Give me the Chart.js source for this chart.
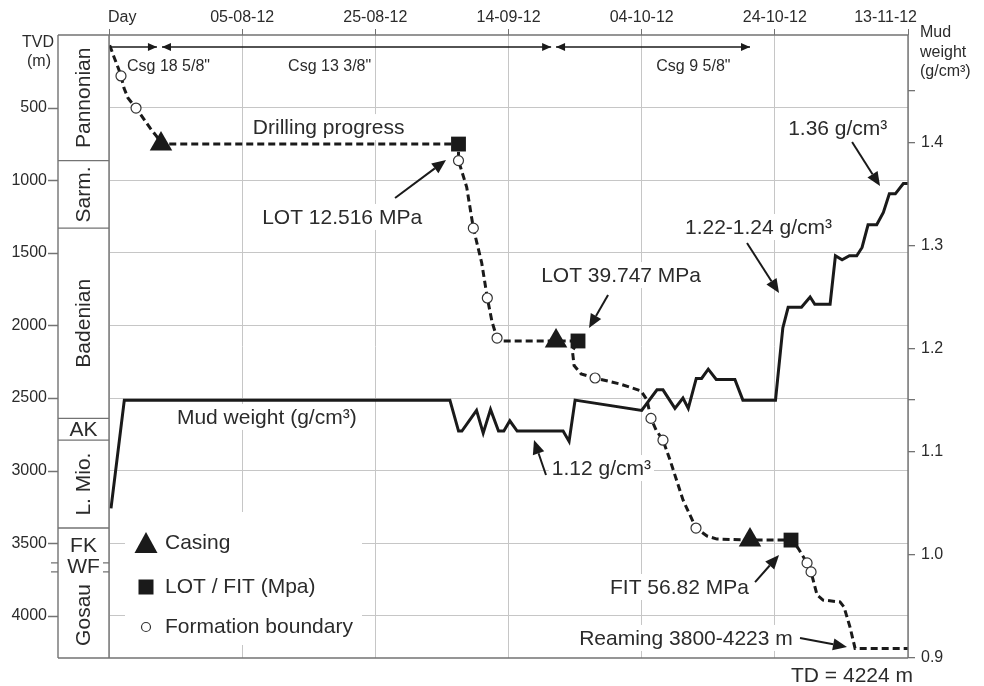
<!DOCTYPE html>
<html>
<head>
<meta charset="utf-8">
<title>Drilling progress and mud weight</title>
<script src="https://cdn.jsdelivr.net/npm/chart.js@4.4.0/dist/chart.umd.min.js"></script>
<style>
  html, body { margin: 0; padding: 0; background: #fff; }
  #wrap { width: 984px; height: 686px; }
</style>
</head>
<body>
<div id="wrap"><canvas id="c" width="984" height="686"></canvas></div>
<script>
// ---- top axis: days since spud, labelled with calendar dates ----
const dateTickDays = [0, 20, 40, 60, 80, 100, 120];
const dateLabels = ['Day', '05-08-12', '25-08-12', '14-09-12', '04-10-12', '24-10-12', '13-11-12'];

// ---- left axis: true vertical depth (m) ----
const depthTicks = [500, 1000, 1500, 2000, 2500, 3000, 3500, 4000];

// ---- right axis: mud weight (g/cm3) ----
const mudTicks = [0.9, 1.0, 1.1, 1.15, 1.2, 1.3, 1.4, 1.45];
const mudTickLabels = ['0.9', '1.0', '1.1', '', '1.2', '1.3', '1.4', ''];

// ---- drilling progress (day, TVD m) ----
const drillDays = [0.1, 0.75, 1.5, 1.8, 2.25, 2.85, 4.06, 6.16, 7.21, 7.81,
  52.49, 52.49, 53.72, 54.72, 55.98, 56.82, 57.53, 58.28, 59.18, 67.14,
  70.44, 69.6, 69.85, 70.9, 73.0, 76.75, 79.9, 80.8, 81.4, 82.16,
  83.2, 84.26, 86.21, 88.16, 89.82, 91.32, 96.27, 102.43, 103.48, 104.84,
  105.44, 106.34, 107.24, 109.79, 110.39, 111.29, 112.05, 120];
const drillDepth = [70, 151, 241, 282, 365, 434, 503, 640, 702, 751,
  751, 865, 1047, 1330, 1570, 1811, 1976, 2087, 2107, 2107,
  2107, 2175, 2276, 2334, 2362, 2403, 2451, 2513, 2640, 2720,
  2790, 2927, 3202, 3395, 3450, 3471, 3478, 3478, 3533, 3635,
  3697, 3856, 3891, 3904, 3939, 4077, 4224, 4224];

// ---- formation boundaries met while drilling ----
const boundaryDays = [1.8, 4.06, 52.49, 54.72, 56.82, 58.28, 73.0, 81.4, 83.2, 88.16, 104.84, 105.44];
const boundaryDepth = [282, 503, 865, 1330, 1811, 2087, 2362, 2640, 2790, 3395, 3635, 3697];

// ---- casing shoes and leak-off / formation integrity tests ----
const casingDays = [7.81, 67.14, 96.27];
const casingDepth = [751, 2107, 3478];
const lotDays = [52.49, 70.44, 102.43];
const lotDepth = [751, 2107, 3478];

// ---- casing strings (interval in days) ----
const casingNames = ['Csg 18 5/8"', 'Csg 13 3/8"', 'Csg 9 5/8"'];
const casingFrom = [0.15, 7.96, 67.14];
const casingTo = [7.2, 66.4, 96.27];
const casingLabelDays = [2.7, 26.9, 82.2];

// ---- mud weight (day, g/cm3) ----
const mudDays = [0.3, 2.3, 51.2, 52.5, 53.0, 55.2, 56.2, 57.3, 58.5, 59.3,
  60.2, 61.3, 68.2, 69.1, 70.0, 80.0, 82.3, 83.2, 85.0, 86.2,
  87.0, 88.2, 89.0, 90.0, 91.2, 94.0, 95.2, 100.1, 101.2, 102.0,
  104.0, 105.3, 106.0, 108.3, 109.1, 110.1, 111.2, 112.3, 113.1, 114.0,
  115.3, 116.3, 117.2, 118.1, 119.3, 120];
const mudWeight = [1.045, 1.15, 1.15, 1.12, 1.12, 1.14, 1.118, 1.141, 1.12, 1.12,
  1.13, 1.12, 1.12, 1.11, 1.15, 1.14, 1.16, 1.16, 1.142, 1.152,
  1.142, 1.171, 1.171, 1.18, 1.17, 1.17, 1.15, 1.15, 1.22, 1.24,
  1.24, 1.25, 1.243, 1.243, 1.29, 1.286, 1.29, 1.29, 1.298, 1.32,
  1.32, 1.332, 1.35, 1.35, 1.36, 1.36];

// ---- stratigraphic column (top of each unit, m) ----
const formationNames = ['Pannonian', 'Sarm.', 'Badenian', 'AK', 'L. Mio.', 'FK', 'WF', 'Gosau'];
const formationTops = [0, 865, 1330, 2640, 2790, 3395, 3635, 3697];

// ---- legend ----
const legendLabels = ['Casing', 'LOT / FIT (Mpa)', 'Formation boundary'];

// ---- callouts: text anchored at (day, depth); arrows from -> to ----
const notes = [
  { text: 'Drilling progress', day: 21.6, depth: 634, align: 'left' },
  { text: 'LOT 12.516 MPa', day: 23.0, depth: 1253, align: 'left', from: [42.96, 1122], to: [50.62, 861] },
  { text: 'LOT 39.747 MPa', day: 64.9, depth: 1653, align: 'left', from: [74.95, 1790], to: [72.09, 2018] },
  { text: 'Mud weight (g/cm\u00B3)', day: 10.2, depth: 2630, align: 'left' },
  { text: '1.12 g/cm\u00B3', day: 66.5, depth: 2982, align: 'left', from: [65.63, 3030], to: [63.83, 2789] },
  { text: '1.22-1.24 g/cm\u00B3', day: 86.5, depth: 1322, align: 'left', from: [95.82, 1432], to: [100.63, 1777] },
  { text: '1.36 g/cm\u00B3', day: 102.0, depth: 640, align: 'left', from: [111.6, 737], to: [115.8, 1040] },
  { text: 'FIT 56.82 MPa', day: 96.1, depth: 3801, align: 'right', from: [97.03, 3767], to: [100.63, 3581] },
  { text: 'Reaming 3800-4223 m', day: 102.7, depth: 4152, align: 'right', from: [103.78, 4152], to: [110.84, 4214] }
];

const FONT = "'Liberation Sans', Arial, Helvetica, sans-serif";
const INK = '#1a1a1a';
const TEXT = '#2b2b2b';
const FRAME = '#737373';
const GRID = '#c6c6c6';

function arrow(ctx, x1, y1, x2, y2, len, half, width) {
  const ang = Math.atan2(y2 - y1, x2 - x1);
  const bx = x2 - Math.cos(ang) * len, by = y2 - Math.sin(ang) * len;
  ctx.lineWidth = width;
  ctx.beginPath();
  ctx.moveTo(x1, y1);
  ctx.lineTo(bx, by);
  ctx.stroke();
  ctx.beginPath();
  ctx.moveTo(x2, y2);
  ctx.lineTo(bx + Math.sin(ang) * half, by - Math.cos(ang) * half);
  ctx.lineTo(bx - Math.sin(ang) * half, by + Math.cos(ang) * half);
  ctx.closePath();
  ctx.fill();
}

function noteBox(ctx, chart, n) {
  const x = chart.scales.x.getPixelForValue(n.day);
  const y = chart.scales.y.getPixelForValue(n.depth);
  const w = ctx.measureText(n.text).width;
  const left = n.align === 'right' ? x - w : x;
  return { x, y, w, left };
}

const decor = {
  id: 'decor',
  beforeDatasetsDraw(chart) {
    const { ctx, chartArea: a } = chart;
    ctx.save();
    ctx.fillStyle = '#fff';
    // legend panel hides the grid behind it
    ctx.fillRect(a.left + 16, a.bottom - 146, 237, 133);
    // white backing behind callout text
    ctx.font = `21px ${FONT}`;
    notes.forEach(n => {
      const b = noteBox(ctx, chart, n);
      ctx.fillRect(b.left - 3, b.y - 13, b.w + 6, 26);
    });
    ctx.restore();
  },
  afterDraw(chart) {
    const { ctx, chartArea: a, scales } = chart;
    const sx = scales.x, sy = scales.y;
    const colLeft = a.left - 51;
    ctx.save();

    // frame and stratigraphic column
    ctx.strokeStyle = FRAME;
    ctx.lineWidth = 1.4;
    ctx.beginPath();
    ctx.moveTo(colLeft, a.top); ctx.lineTo(a.right, a.top);
    ctx.moveTo(colLeft, a.bottom); ctx.lineTo(a.right, a.bottom);
    ctx.moveTo(colLeft, a.top); ctx.lineTo(colLeft, a.bottom);
    ctx.moveTo(a.left, a.top); ctx.lineTo(a.left, a.bottom);
    ctx.moveTo(a.right, a.top); ctx.lineTo(a.right, a.bottom);
    ctx.stroke();

    // depth tick marks outside the column
    ctx.beginPath();
    depthTicks.forEach(d => {
      const y = Math.round(sy.getPixelForValue(d)) + 0.5;
      ctx.moveTo(colLeft - 10, y); ctx.lineTo(colLeft, y);
    });
    ctx.stroke();

    ctx.fillStyle = TEXT;
    ctx.font = `21px ${FONT}`;
    ctx.textBaseline = 'middle';
    ctx.textAlign = 'center';
    const cx = (colLeft + a.left) / 2;
    formationNames.forEach((name, i) => {
      const top = sy.getPixelForValue(formationTops[i]);
      const bot = i + 1 < formationTops.length ? sy.getPixelForValue(formationTops[i + 1]) : a.bottom;
      const h = bot - top;
      if (i > 0) {
        const prevH = top - sy.getPixelForValue(formationTops[i - 1]);
        ctx.beginPath();
        if (h < 15 || prevH < 15) {
          // thin unit: short marks at both sides
          ctx.moveTo(colLeft - 7, top); ctx.lineTo(colLeft, top);
          ctx.moveTo(a.left - 6, top); ctx.lineTo(a.left, top);
        } else {
          ctx.moveTo(colLeft, top); ctx.lineTo(a.left, top);
        }
        ctx.stroke();
      }
      const cy = (top + bot) / 2;
      if (h > 50) {
        ctx.save();
        ctx.translate(cx + 1, cy);
        ctx.rotate(-Math.PI / 2);
        ctx.fillText(name, 0, 0);
        ctx.restore();
      } else {
        ctx.fillText(name, cx, cy + (h < 15 ? 0 : 1));
      }
    });

    // axis titles
    ctx.font = `16px ${FONT}`;
    ctx.textAlign = 'center';
    ctx.fillText('TVD', colLeft - 20, a.top + 8);
    ctx.fillText('(m)', colLeft - 19, a.top + 27);
    ctx.textAlign = 'left';
    ctx.fillText('Mud', a.right + 12, a.top - 2);
    ctx.fillText('weight', a.right + 12, a.top + 18);
    ctx.fillText('(g/cm\u00B3)', a.right + 12, a.top + 37);

    // date labels on the top axis
    dateLabels.forEach((lab, i) => {
      const x = sx.getPixelForValue(dateTickDays[i]);
      let align = 'center', dx = 0;
      if (i === 0) { align = 'left'; dx = -1; }
      if (i === dateLabels.length - 1) { align = 'right'; dx = 9; }
      ctx.textAlign = align;
      ctx.fillText(lab, x + dx, a.top - 17);
    });

    // casing string intervals
    ctx.strokeStyle = INK;
    ctx.fillStyle = INK;
    const ay = a.top + 12;
    casingNames.forEach((name, i) => {
      const x1 = sx.getPixelForValue(casingFrom[i]);
      const x2 = sx.getPixelForValue(casingTo[i]);
      ctx.lineWidth = 1.4;
      ctx.beginPath(); ctx.moveTo(x1, ay); ctx.lineTo(x2, ay); ctx.stroke();
      arrow(ctx, x2 - 9, ay, x2, ay, 9, 4, 1.4);
      if (casingFrom[i] > 1) arrow(ctx, x1 + 9, ay, x1, ay, 9, 4, 1.4);
      ctx.fillStyle = TEXT;
      ctx.textAlign = 'left';
      ctx.font = `16px ${FONT}`;
      ctx.fillText(name, sx.getPixelForValue(casingLabelDays[i]), ay + 20);
      ctx.fillStyle = INK;
    });

    // callouts
    ctx.font = `21px ${FONT}`;
    notes.forEach(n => {
      const b = noteBox(ctx, chart, n);
      ctx.fillStyle = TEXT;
      ctx.textAlign = 'left';
      ctx.fillText(n.text, b.left, b.y + 1);
      if (n.from) {
        ctx.fillStyle = INK;
        ctx.strokeStyle = INK;
        arrow(ctx, sx.getPixelForValue(n.from[0]), sy.getPixelForValue(n.from[1]),
          sx.getPixelForValue(n.to[0]), sy.getPixelForValue(n.to[1]), 14, 6, 2);
      }
    });

    // total depth
    ctx.fillStyle = TEXT;
    ctx.textAlign = 'right';
    ctx.fillText('TD = ' + drillDepth[drillDepth.length - 1] + ' m', a.right + 5, a.bottom + 18);

    // legend
    const lx = a.left + 37;
    const ly = [a.bottom - 115, a.bottom - 71, a.bottom - 31];
    ctx.fillStyle = INK;
    ctx.beginPath();
    ctx.moveTo(lx, ly[0] - 11); ctx.lineTo(lx + 11.5, ly[0] + 10); ctx.lineTo(lx - 11.5, ly[0] + 10);
    ctx.closePath(); ctx.fill();
    ctx.fillRect(lx - 7.5, ly[1] - 7.5, 15, 15);
    ctx.fillStyle = '#fff';
    ctx.strokeStyle = '#333';
    ctx.lineWidth = 1.2;
    ctx.beginPath(); ctx.arc(lx, ly[2], 4.5, 0, Math.PI * 2); ctx.fill(); ctx.stroke();
    ctx.fillStyle = TEXT;
    ctx.textAlign = 'left';
    legendLabels.forEach((t, i) => ctx.fillText(t, lx + 19, ly[i]));

    ctx.restore();
  }
};

const toXY = (xs, ys) => xs.map((v, i) => ({ x: v, y: ys[i] }));

new Chart(document.getElementById('c'), {
  type: 'line',
  data: {
    datasets: [
      {
        label: 'Casing', data: toXY(casingDays, casingDepth), yAxisID: 'y',
        showLine: false, pointStyle: 'triangle', pointRadius: 13,
        pointBackgroundColor: INK, pointBorderColor: INK, pointBorderWidth: 0, order: 1
      },
      {
        label: 'LOT / FIT (Mpa)', data: toXY(lotDays, lotDepth), yAxisID: 'y',
        showLine: false, pointStyle: 'rect', pointRadius: 10.5,
        pointBackgroundColor: INK, pointBorderColor: INK, pointBorderWidth: 0, order: 2
      },
      {
        label: 'Formation boundary', data: toXY(boundaryDays, boundaryDepth), yAxisID: 'y',
        showLine: false, pointStyle: 'circle', pointRadius: 5,
        pointBackgroundColor: '#fff', pointBorderColor: '#333', pointBorderWidth: 1.2, order: 3
      },
      {
        label: 'Drilling progress', data: toXY(drillDays, drillDepth), yAxisID: 'y',
        borderColor: INK, borderWidth: 3, borderDash: [7, 4], pointRadius: 0,
        tension: 0, fill: false, order: 4
      },
      {
        label: 'Mud weight', data: toXY(mudDays, mudWeight), yAxisID: 'y2',
        borderColor: INK, borderWidth: 3, pointRadius: 0, tension: 0, fill: false,
        borderJoinStyle: 'miter', order: 5
      }
    ]
  },
  options: {
    responsive: false,
    animation: false,
    devicePixelRatio: 1,
    layout: { autoPadding: false, padding: { top: 0, bottom: 28, left: 0, right: 0 } },
    plugins: { legend: { display: false }, tooltip: { enabled: false } },
    scales: {
      x: {
        type: 'linear', position: 'top', min: 0, max: 120,
        afterBuildTicks: s => { s.ticks = dateTickDays.map(v => ({ value: v })); },
        afterFit: s => { s.height = 35; },
        ticks: { display: false },
        grid: { color: GRID, lineWidth: 1, drawTicks: true, tickLength: 6, tickColor: FRAME },
        border: { display: false }
      },
      y: {
        type: 'linear', position: 'left', reverse: true, min: 0, max: 4290,
        afterBuildTicks: s => { s.ticks = depthTicks.map(v => ({ value: v })); },
        afterFit: s => { s.width = 109; s.paddingTop = 0; s.paddingBottom = 0; },
        ticks: { padding: 62, autoSkip: false, color: TEXT, font: { family: FONT, size: 16 }, callback: v => String(v) },
        grid: { color: GRID, lineWidth: 1, drawTicks: false },
        border: { display: false }
      },
      y2: {
        type: 'linear', position: 'right', min: 0.9, max: 1.504,
        afterBuildTicks: s => { s.ticks = mudTicks.map(v => ({ value: v })); },
        afterFit: s => { s.width = 76; s.paddingTop = 0; s.paddingBottom = 0; },
        ticks: {
          padding: 6, autoSkip: false, color: TEXT, font: { family: FONT, size: 16 },
          callback: (v) => { const i = mudTicks.findIndex(t => Math.abs(t - v) < 1e-6); return i >= 0 ? mudTickLabels[i] : ''; }
        },
        grid: { drawOnChartArea: false, drawTicks: true, tickLength: 7, color: FRAME, lineWidth: 1.3 },
        border: { display: false }
      }
    }
  },
  plugins: [decor]
});
</script>
</body>
</html>
